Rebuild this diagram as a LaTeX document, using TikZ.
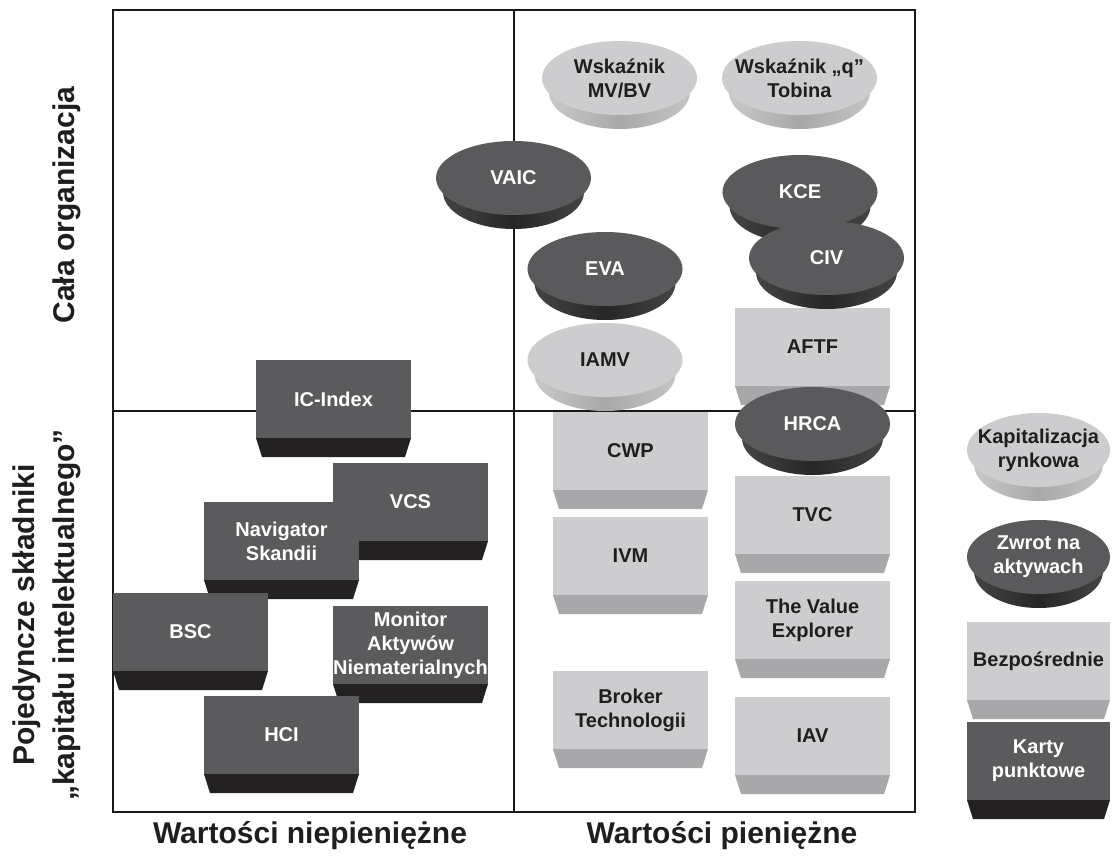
\documentclass[tikz,border=0pt]{standalone}
\usepackage{fontspec}
\setmainfont{Liberation Sans}
\definecolor{dkface}{HTML}{5B5B5D}
\definecolor{dkbase}{HTML}{232122}
\definecolor{ltface}{HTML}{CDCDCF}
\definecolor{ltbase}{HTML}{A8A8AA}
\definecolor{dktop}{HTML}{5A5A5C}
\definecolor{lttop}{HTML}{CDCDCF}
\definecolor{ink}{HTML}{1E1E1E}
\tikzset{
  dktext/.style={text=white,font=\bfseries\fontsize{20}{24}\selectfont,align=center,inner sep=0pt},
  lttext/.style={text=ink,font=\bfseries\fontsize{20}{24}\selectfont,align=center,inner sep=0pt},
  dkside/.style={left color=black!72,right color=black!72,middle color=black!85},
  ltside/.style={left color=black!20,right color=black!22,middle color=black!34},
  axislabel/.style={text=ink,font=\bfseries\fontsize{30}{40}\selectfont,align=center,inner sep=0pt},
  frameline/.style={draw=black!90,line width=1.3pt},
}
\newcommand\mybox[6]{%
  \begin{scope}[shift={(#2,#3)}]
    \fill[#5face] (0,0) rectangle (#4,78);
    \fill[#5base] (0,78) -- (6,97) -- (#4-6,97) -- (#4,78) -- cycle;
    \node[#5text] (#1) at (#4/2,39) {#6};
  \end{scope}}
\newcommand\mydisc[6]{%
  \begin{scope}[shift={(#2,#3)}]
    \shade[#5side] (-#4,0) -- ({-#4+7},14) arc[start angle=180,end angle=0,x radius={#4-7},y radius=37] -- (#4,0) -- cycle;
    \fill[#5top] (0,0) ellipse [x radius=#4, y radius=37];
    \node[#5text] (#1) at (0,0) {#6};
  \end{scope}}
\begin{document}
\begin{tikzpicture}[x=1pt,y=-1pt]
\useasboundingbox (0,0) rectangle (1119,859);
\fill[white] (0,0) rectangle (1119,859);
% frame
\coordinate (tl) at (113,10);
\coordinate (br) at (915,812);
\coordinate (mt) at (514,10);
\coordinate (mb) at (514,812);
\coordinate (ml) at (113,411);
\coordinate (mr) at (915,411);
\draw[frameline] (tl) rectangle (br);
\draw[frameline] (mt) -- (mb);
\draw[frameline] (ml) -- (mr);
% discs top-right
\mydisc{mvbv}{619.5}{78}{77.5}{lt}{Wskaźnik\\MV/BV}
\mydisc{tobin}{799.5}{78}{77.5}{lt}{Wskaźnik „q”\\Tobina}
\mydisc{vaic}{513.5}{178}{77.5}{dk}{VAIC}
\mybox{aftf}{735}{308}{155}{lt}{AFTF}
\mydisc{kce}{800}{192}{77.5}{dk}{KCE}
\mydisc{civ}{826.5}{258}{77.5}{dk}{CIV}
\mydisc{eva}{605}{269}{77.5}{dk}{EVA}
\mydisc{iamv}{605}{360}{77.5}{lt}{IAMV}
\mydisc{hrca}{812.5}{424}{77.5}{dk}{HRCA}
% light boxes
\mybox{cwp}{553}{412}{155}{lt}{CWP}
\mybox{ivm}{553}{517}{155}{lt}{IVM}
\mybox{broker}{553}{671}{155}{lt}{Broker\\Technologii}
\mybox{tvc}{735}{476}{155}{lt}{TVC}
\mybox{tve}{735}{581}{155}{lt}{The Value\\Explorer}
\mybox{iav}{735}{697}{155}{lt}{IAV}
% dark boxes
\mybox{icindex}{256}{360}{155}{dk}{IC-Index}
\mybox{vcs}{333}{463}{155}{dk}{VCS}
\mybox{nav}{204}{502}{155}{dk}{Navigator\\Skandii}
\mybox{bsc}{113}{593}{155}{dk}{BSC}
\mybox{monitor}{333}{606}{155}{dk}{Monitor\\Aktywów\\Niematerialnych}
\mybox{hci}{204}{696}{155}{dk}{HCI}
% legend
\mydisc{legmv}{1038.5}{450}{71.5}{lt}{Kapitalizacja\\rynkowa}
\mydisc{legroa}{1038.5}{557}{71.5}{dk}{Zwrot na\\aktywach}
\mybox{legdir}{967}{622}{143}{lt}{Bezpośrednie}
\mybox{legsc}{967}{722}{143}{dk}{Karty\\punktowe}
% axis labels
\node[axislabel,anchor=base] (xleft) at (310,843) {Wartości niepieniężne};
\node[axislabel,anchor=base] (xright) at (722,843) {Wartości pieniężne};
\node[axislabel,rotate=90,anchor=base] (ytop) at (74,205) {Cała organizacja};
\node[axislabel,rotate=90] (ybot) at (47,615) {Pojedyncze składniki\\„kapitału intelektualnego”};
\end{tikzpicture}
\end{document}
